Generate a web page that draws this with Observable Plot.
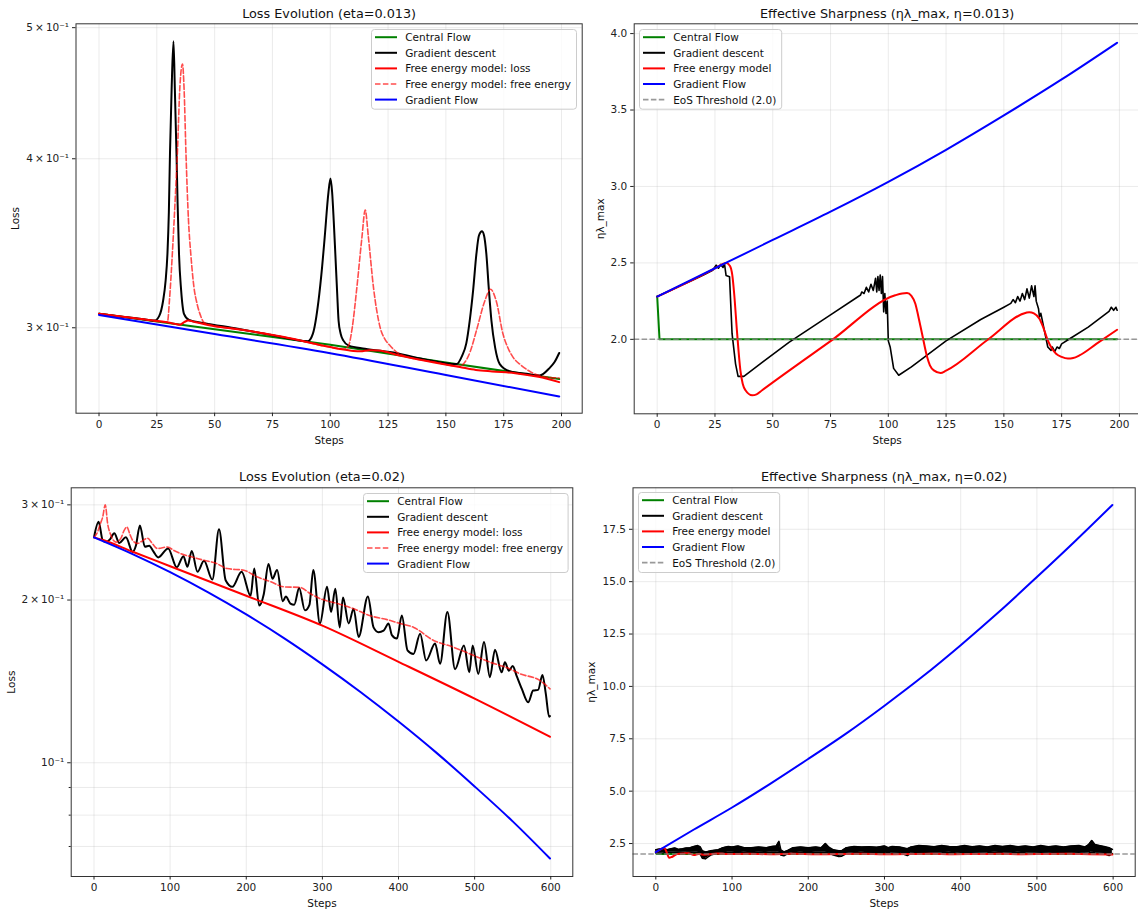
<!DOCTYPE html>
<html><head><meta charset="utf-8">
<script src="https://cdn.jsdelivr.net/npm/d3@7"></script>
<script src="https://cdn.jsdelivr.net/npm/@observablehq/plot@0.6"></script>
<style>
html,body{margin:0;padding:0;background:#fff;overflow:hidden;}
#root{position:relative;width:1138px;height:913px;overflow:hidden;background:#fff;font-family:"DejaVu Sans",sans-serif;}
</style></head><body><div id="root"></div><script>
// ---------------- DATA ----------------
// Panel 1 : loss, eta = 0.013  [step, loss]
const loss013Central = [[0,0.3073],[50,0.2993],[100,0.2914],[150,0.2828],[199,0.2749]];
const loss013GD = [[0,0.3073],[10,0.3057],[20,0.3043],[24,0.3037],[26,0.306],[27.7,0.314],[28.8,0.325],[29.6,0.3405],[30.2,0.365],[30.7,0.4043],[31.4,0.45],[32.2,0.4885],[32.8,0.45],[33.5,0.404],[34,0.37],[34.6,0.34],[35.5,0.32],[36.8,0.307],[38.9,0.304],[45,0.3025],[60,0.2995],[75,0.2962],[90.3,0.2932],[92.5,0.297],[94.9,0.3139],[96.5,0.333],[97.6,0.35],[99.2,0.3775],[100.1,0.3868],[100.8,0.378],[101.5,0.36],[102.2,0.34],[103,0.318],[103.6,0.3036],[104.5,0.297],[105.7,0.2935],[108,0.291],[115,0.2895],[128.7,0.2873],[140,0.2845],[154.6,0.282],[157,0.286],[158.8,0.292],[160.3,0.3036],[161.8,0.32],[163.2,0.3402],[164.3,0.351],[165.6,0.3535],[166.5,0.351],[167.5,0.3402],[168.6,0.32],[169.7,0.3036],[171.3,0.29],[173.3,0.282],[177.6,0.2786],[186,0.2772],[190.5,0.2766],[194.8,0.2801],[197,0.283],[199,0.2874]];
const loss013FreeLoss = [[0,0.3073],[20,0.3042],[30,0.3027],[33,0.302],[35,0.3016],[37,0.303],[38.5,0.3037],[42,0.3028],[50,0.3008],[60,0.2993],[80,0.2953],[100,0.2903],[105,0.2892],[110,0.2884],[113,0.2882],[117,0.2888],[121,0.2886],[130,0.2862],[145,0.2828],[156,0.2806],[163,0.2792],[170,0.2785],[180,0.2777],[190,0.276],[199,0.2735]];
const loss013FreeEnergy = [[0,0.3073],[20,0.3042],[28,0.303],[29.6,0.303],[30.5,0.315],[31.7,0.34],[33,0.375],[33.9,0.404],[35,0.453],[36.1,0.47],[36.8,0.45],[37.6,0.404],[38.7,0.36],[39.7,0.34],[41,0.322],[42.5,0.312],[44,0.306],[45.4,0.3027],[50,0.301],[60,0.2993],[80,0.2953],[100,0.2903],[106,0.2893],[107.9,0.291],[109.5,0.3],[111.5,0.3212],[113.7,0.3499],[115.1,0.3666],[116.5,0.3499],[118.7,0.3212],[121.6,0.3],[123.5,0.2945],[125.9,0.291],[130,0.2869],[145,0.283],[156,0.281],[157.5,0.282],[160.5,0.288],[163.2,0.2985],[166.8,0.3139],[169.3,0.3203],[171.8,0.3139],[174.7,0.2968],[177,0.2895],[179,0.2854],[182.5,0.2815],[186.2,0.2786],[191.9,0.2761],[199,0.2754]];
const loss013GradFlow = [[0,0.3066],[50,0.2968],[100,0.2873],[150,0.2768],[199,0.2669]];

// Panel 2 : effective sharpness, eta = 0.013
const sharp013Central = [[0,2.28],[1,2.0],[199,2.0]];
const sharp013GD = [[0,2.28],[5,2.315],[10,2.35],[15,2.385],[20,2.42],[24,2.452],[25.5,2.485],[26.5,2.465],[27.5,2.49],[28.5,2.47],[29.1,2.495],[29.8,2.418],[31.3,2.41],[32.4,2.037],[33.9,1.84],[35,1.758],[37.5,1.758],[45,1.845],[57,1.98],[75,2.16],[88,2.29],[88.5,2.31],[89.5,2.3],[90.5,2.34],[91.5,2.31],[92.5,2.36],[93.5,2.32],[94.5,2.4],[95,2.31],[95.5,2.41],[96,2.32],[96.5,2.42],[97,2.3],[97.5,2.41],[98,2.18],[98.5,2.3],[99,2.17],[99.5,2.25],[100,1.99],[100.8,1.95],[102.3,1.81],[104.5,1.765],[110,1.82],[125,1.99],[140,2.13],[150,2.21],[153,2.235],[154,2.26],[155,2.24],[156,2.28],[157,2.25],[158,2.3],[159,2.26],[160,2.33],[161,2.27],[162,2.35],[163,2.28],[163.5,2.35],[164,2.25],[165,2.2],[165.4,2.146],[166,2.17],[167.5,2.06],[169,1.95],[170.4,1.928],[171,1.95],[172,1.92],[173,1.95],[174,1.94],[175,1.97],[178.5,2.004],[186.5,2.08],[195.5,2.183],[196.5,2.21],[197.5,2.19],[198.5,2.21],[199,2.19]];
const sharp013Free = [[0,2.28],[25,2.465],[28,2.49],[30,2.5],[31.5,2.48],[32.5,2.42],[33.3,2.3],[34.6,2.037],[36,1.797],[37,1.71],[38.2,1.667],[41.1,1.634],[43,1.64],[45.4,1.667],[75,1.988],[103,2.288],[106,2.3],[108.1,2.303],[110,2.285],[111.7,2.233],[113,2.15],[114.6,2.037],[116.8,1.884],[118,1.83],[119.7,1.797],[122.6,1.78],[125,1.795],[143,1.997],[159.6,2.174],[161,2.178],[163,2.17],[165.4,2.135],[167,2.08],[169,1.993],[170.8,1.94],[172.6,1.906],[175,1.885],[177.7,1.874],[180,1.878],[182.7,1.895],[190,1.97],[199,2.063]];
const sharp013GradFlow = [[0,2.28],[25,2.465],[50,2.65],[75,2.835],[100,3.03],[125,3.24],[150,3.465],[175,3.7],[199,3.94]];

// Panel 3 : loss, eta = 0.02
const loss02GD = [[0,0.2612],[6.1,0.2791],[11.4,0.258],[15.7,0.256],[21,0.259],[26.6,0.2657],[33.2,0.255],[41.9,0.2613],[50.7,0.2455],[55,0.252],[60.3,0.2747],[66.8,0.251],[72.5,0.252],[78,0.246],[84.3,0.2398],[97.4,0.2491],[108.7,0.2299],[117.5,0.2411],[122.7,0.2304],[128.4,0.2465],[135.9,0.2256],[144.5,0.2364],[155.5,0.2182],[164.2,0.2703],[172.9,0.2176],[181.7,0.2116],[193.9,0.2256],[205.7,0.2037],[210.5,0.2288],[217,0.1953],[223,0.205],[229.2,0.2331],[234.5,0.219],[240.5,0.2272],[248,0.199],[252,0.203],[258,0.197],[263,0.196],[269.5,0.2105],[277,0.1914],[283,0.196],[288,0.2272],[296.8,0.1809],[306.1,0.2116],[311.4,0.19],[317,0.2099],[322.7,0.178],[327.1,0.2022],[334.5,0.181],[341,0.1927],[347.6,0.1709],[359.8,0.2031],[367.2,0.178],[373.8,0.1744],[380.4,0.1755],[386.9,0.181],[391.3,0.1722],[397.9,0.1697],[404.4,0.1873],[411.8,0.1614],[419.7,0.159],[428.4,0.1733],[436.3,0.1546],[448.1,0.1662],[454.6,0.1524],[464.2,0.1901],[474.3,0.149],[486,0.1648],[493,0.147],[497.4,0.1648],[504.8,0.146],[512.3,0.1673],[520.1,0.144],[526.7,0.1618],[535.4,0.147],[539.8,0.1535],[545,0.148],[550,0.151],[555,0.145],[562,0.137],[570.3,0.1294],[576.9,0.136],[583.4,0.1364],[589.1,0.1454],[593.5,0.1341],[597.8,0.1217],[599,0.122]];
const loss02FreeLoss = [[0,0.2612],[13,0.258],[50,0.2459],[100,0.231],[200,0.2037],[300,0.1793],[400,0.1537],[500,0.1314],[599,0.1117]];
const loss02FreeEnergy = [[0,0.2612],[5,0.268],[8,0.276],[11.4,0.2848],[14.8,0.3],[17.9,0.277],[22.3,0.2633],[28.8,0.256],[35.4,0.2603],[39,0.268],[43.2,0.273],[47,0.265],[50.7,0.258],[57.2,0.2545],[63,0.257],[70.3,0.2603],[77,0.254],[83.4,0.2491],[96.5,0.2507],[105,0.247],[114,0.2437],[130,0.24],[144.5,0.2369],[160,0.234],[175,0.2287],[197,0.227],[214,0.2208],[232,0.2163],[249,0.2116],[271,0.211],[284,0.2056],[297,0.2012],[320,0.197],[340,0.193],[363,0.187],[385,0.184],[402,0.181],[420,0.178],[446,0.1684],[470,0.164],[494,0.159],[520,0.1535],[542,0.15],[560,0.146],[585.6,0.142],[599,0.137]];
const loss02GradFlow = [[0,0.2612],[50,0.2435],[100,0.2252],[150,0.2066],[200,0.1881],[250,0.1699],[300,0.1521],[350,0.1352],[400,0.1192],[450,0.1043],[500,0.0904],[550,0.0779],[599,0.0665]];

// Panel 4 : effective sharpness, eta = 0.02
const sharp02Central = [[0,2.1],[1,2.0],[599,2.0]];
// gradient descent oscillates fast: [step, lower envelope, upper envelope]
const sharp02GDBand = [[0,2.06,2.2],[5,2.05,2.24],[10,2.06,2.25],[15,2.08,2.2],[20,2.08,2.25],[25,2.1,2.29],[30,2.09,2.22],[35,2.08,2.25],[40,2.1,2.29],[45,2.09,2.3],[50,2.08,2.36],[55,2.1,2.4],[58,2.02,2.35],[61,1.8,2.15],[65,1.77,2.1],[68,1.85,2.12],[72,1.95,2.15],[77,2.0,2.18],[82,2.02,2.2],[88,2.05,2.3],[95,2.08,2.36],[100,2.08,2.33],[108,2.06,2.38],[116,2.08,2.3],[125,2.06,2.3],[135,2.08,2.33],[145,2.07,2.3],[152,2.1,2.36],[158,2.08,2.38],[161.5,2.1,2.6],[164,1.95,2.2],[168,1.92,2.1],[172,2.0,2.15],[180,2.06,2.3],[190,2.08,2.33],[200,2.06,2.3],[210,2.08,2.33],[217,2.08,2.3],[222.5,2.1,2.5],[227,2.05,2.32],[233,1.95,2.2],[240,1.88,2.15],[244,1.9,2.16],[250,2.02,2.3],[260,2.06,2.36],[270,2.08,2.33],[280,2.06,2.35],[290,2.06,2.32],[300,2.06,2.38],[305,2.0,2.3],[310,2.05,2.36],[320,2.06,2.33],[330,1.93,2.25],[335,2.05,2.33],[345,2.07,2.4],[355,2.06,2.38],[365,2.05,2.35],[375,2.06,2.4],[385,2.08,2.36],[395,2.05,2.35],[405,2.07,2.4],[415,2.06,2.35],[425,2.05,2.38],[435,2.06,2.33],[445,2.08,2.4],[455,2.06,2.36],[465,2.05,2.4],[475,2.08,2.35],[485,2.06,2.38],[495,2.05,2.33],[505,2.06,2.4],[515,2.05,2.35],[525,2.07,2.38],[535,2.06,2.33],[545,2.05,2.38],[555,2.06,2.4],[563,2.04,2.33],[568,2.05,2.45],[572,2.1,2.64],[576,2.06,2.45],[582,2.04,2.4],[588,2.02,2.36],[594.7,1.93,2.3],[599,2.02,2.22]];
const sharp02Free = [[0,2.09],[5,2.2],[11,2.29],[14,2.1],[17.5,1.82],[21,1.86],[28,2.0],[37,2.03],[43,2.04],[50,1.95],[56,2.0],[62,1.97],[70,1.99],[80,2.02],[95,2.0],[120,2.01],[150,1.99],[180,2.01],[210,1.99],[240,2.0],[270,2.01],[300,1.99],[330,2.0],[360,2.01],[390,1.99],[420,2.0],[450,2.01],[480,1.99],[510,2.0],[540,2.01],[570,1.99],[599,1.98]];
const sharp02GradFlow = [[0,2.086],[50,3.17],[100,4.22],[150,5.35],[200,6.54],[250,7.76],[300,9.08],[350,10.47],[400,11.97],[450,13.55],[500,15.22],[550,16.93],[599,18.66]];

const eosThreshold = 2.0;

// ticks & labels
const xTicks200 = [0,25,50,75,100,125,150,175,200];
const xTicks600 = [0,100,200,300,400,500,600];
const yTicksLoss013 = [0.3,0.4,0.5];
const yLabelsLoss013 = ["3\u2009×\u200910⁻¹","4\u2009×\u200910⁻¹","5\u2009×\u200910⁻¹"];
const yTicksLoss02 = [0.1,0.2,0.3];
const yLabelsLoss02 = ["10⁻¹","2\u2009×\u200910⁻¹","3\u2009×\u200910⁻¹"];
const yMinorLoss02 = [0.07,0.08,0.09];
const yTicksSharp013 = [2.0,2.5,3.0,3.5,4.0];
const yTicksSharp02 = [2.5,5.0,7.5,10.0,12.5,15.0,17.5];

const C = {green:"#008000", black:"#000000", red:"#ff0000", blue:"#0000ff", gray:"#808080"};

// ---------------- DRAWING ----------------
const root = document.getElementById("root");
const fmtMap = (ticks, labels) => { const m = new Map(ticks.map((t,i)=>[t,labels[i]])); return d => m.get(d) ?? ""; };

function panel(cfg) {
  const gridStyle = {stroke:"#b0b0b0", strokeOpacity:0.32, strokeWidth:0.8};
  const marks = [
    Plot.gridX(cfg.xTicks, gridStyle),
    Plot.gridY(cfg.yGrid, gridStyle)
  ];
  for (const s of cfg.series) {
    if (s.band) {
      marks.push(Plot.areaY(s.data, {x:d=>d[0], y1:d=>d[1], y2:d=>d[2], fill:s.stroke, curve:"linear"}));
      marks.push(Plot.line(s.data, {x:d=>d[0], y:d=>d[1], stroke:s.stroke, strokeWidth:1.6}));
      marks.push(Plot.line(s.data, {x:d=>d[0], y:d=>d[2], stroke:s.stroke, strokeWidth:1.6}));
    } else {
      marks.push(Plot.line(s.data, {x:d=>d[0], y:d=>d[1], stroke:s.stroke, strokeWidth:s.width ?? 2,
        strokeOpacity:s.opacity ?? 1, strokeDasharray:s.dash, curve:s.curve ?? "linear", strokeLinejoin:"round"}));
    }
  }
  if (cfg.threshold != null)
    marks.push(Plot.ruleY([cfg.threshold], {stroke:C.gray, strokeOpacity:0.8, strokeWidth:1.5, strokeDasharray:"5.5,2.4"}));
  marks.push(Plot.frame({stroke:"#333", strokeWidth:1}));
  marks.push(Plot.axisX({ticks:cfg.xTicks, tickSize:3.5, tickPadding:3.5, tickFormat:d3.format("d"), label:null}));
  marks.push(Plot.axisY({ticks:cfg.yTicks, tickSize:3.5, tickPadding:3.5, tickFormat:cfg.yFmt, label:null}));
  if (cfg.yMinor) marks.push(Plot.axisY({ticks:cfg.yMinor, tickSize:2, tickFormat:()=>"", label:null}));
  marks.push(Plot.text([cfg.title], {frameAnchor:"top", dy:cfg.titleDy, fontSize:12.8, textAnchor:"middle", lineAnchor:"middle", fill:"#111"}));
  marks.push(Plot.text(["Steps"], {frameAnchor:"bottom", dy:27, fontSize:10.5, textAnchor:"middle", lineAnchor:"middle", fill:"#111"}));
  marks.push(Plot.text([cfg.ylabel], {frameAnchor:"left", dx:cfg.ylabelDx, rotate:-90, fontSize:10.5, textAnchor:"middle", lineAnchor:"middle", fill:"#111"}));
  const svg = Plot.plot({
    width:cfg.w, height:cfg.h,
    marginLeft:cfg.ml, marginRight:cfg.mr, marginTop:cfg.mt, marginBottom:cfg.mb,
    x:{type:"linear", domain:cfg.xDomain},
    y:{type:cfg.yType, domain:cfg.yDomain},
    style:{background:"transparent", fontFamily:"DejaVu Sans", fontSize:"10.5px", color:"#222", overflow:"visible"},
    marks
  });
  svg.style.position = "absolute";
  svg.style.left = cfg.left + "px";
  svg.style.top = cfg.top + "px";
  root.appendChild(svg);
}

function legend(cfg) {
  const ns = "http://www.w3.org/2000/svg";
  const svg = document.createElementNS(ns, "svg");
  svg.setAttribute("width", cfg.w); svg.setAttribute("height", cfg.h);
  svg.style.position = "absolute"; svg.style.left = cfg.left + "px"; svg.style.top = cfg.top + "px";
  svg.style.overflow = "visible";
  const rect = document.createElementNS(ns, "rect");
  Object.entries({x:0.5, y:0.5, width:cfg.w-1, height:cfg.h-1, rx:3, fill:"#fff", "fill-opacity":0.8, stroke:"#cccccc", "stroke-width":1}).forEach(([k,v])=>rect.setAttribute(k,v));
  svg.appendChild(rect);
  cfg.items.forEach((it, i) => {
    const y = 8.2 + i * 15.6;
    const ln = document.createElementNS(ns, "line");
    Object.entries({x1:4, x2:26, y1:y, y2:y, stroke:it.stroke, "stroke-width":it.width ?? 2, "stroke-opacity":it.opacity ?? 1}).forEach(([k,v])=>ln.setAttribute(k,v));
    if (it.dash) ln.setAttribute("stroke-dasharray", it.dash);
    svg.appendChild(ln);
    const tx = document.createElementNS(ns, "text");
    tx.setAttribute("x", 34.2); tx.setAttribute("y", y); tx.setAttribute("dominant-baseline", "central");
    tx.setAttribute("font-family", "DejaVu Sans"); tx.setAttribute("font-size", "10.5px"); tx.setAttribute("fill", "#111");
    tx.textContent = it.label;
    svg.appendChild(tx);
  });
  root.appendChild(svg);
}

const lossLegend = [
  {label:"Central Flow", stroke:C.green},
  {label:"Gradient descent", stroke:C.black},
  {label:"Free energy model: loss", stroke:C.red},
  {label:"Free energy model: free energy", stroke:C.red, opacity:0.7, dash:"5.5,2.4", width:1.6},
  {label:"Gradient Flow", stroke:C.blue}
];
const sharpLegend = [
  {label:"Central Flow", stroke:C.green},
  {label:"Gradient descent", stroke:C.black},
  {label:"Free energy model", stroke:C.red},
  {label:"Gradient Flow", stroke:C.blue},
  {label:"EoS Threshold (2.0)", stroke:C.gray, opacity:0.8, dash:"5.5,2.4", width:1.6}
];

// Panel 1
panel({left:0, top:0, w:600, h:450, ml:75.5, mr:18.3, mt:23.3, mb:37.3,
  xDomain:[-9.95,208.95], yType:"log", yDomain:[0.2594,0.5033],
  xTicks:xTicks200, yTicks:yTicksLoss013, yGrid:yTicksLoss013, yFmt:fmtMap(yTicksLoss013, yLabelsLoss013),
  title:"Loss Evolution (eta=0.013)", titleDy:-10, ylabel:"Loss", ylabelDx:-60,
  series:[
    {data:loss013Central, stroke:C.green},
    {data:loss013GD, stroke:C.black, curve:"monotone-x"},
    {data:loss013FreeLoss, stroke:C.red, curve:"monotone-x"},
    {data:loss013FreeEnergy, stroke:C.red, opacity:0.7, dash:"5.5,2.4", width:1.6, curve:"monotone-x"},
    {data:loss013GradFlow, stroke:C.blue, curve:"monotone-x"}
  ]});
// Panel 2
panel({left:580, top:0, w:562, h:450, ml:53.7, mr:2.4, mt:23.3, mb:36.7,
  xDomain:[-9.95,208.95], yType:"linear", yDomain:[1.513,4.064],
  xTicks:xTicks200, yTicks:yTicksSharp013, yGrid:yTicksSharp013, yFmt:d3.format(".1f"),
  title:"Effective Sharpness (ηλ_max, η=0.013)", titleDy:-10, ylabel:"ηλ_max", ylabelDx:-34,
  threshold:eosThreshold,
  series:[
    {data:sharp013Central, stroke:C.green},
    {data:sharp013GD, stroke:C.black, width:1.6},
    {data:sharp013Free, stroke:C.red, curve:"monotone-x"},
    {data:sharp013GradFlow, stroke:C.blue, curve:"monotone-x"}
  ]});
// Panel 3
panel({left:0, top:455, w:590, h:458, ml:70.7, mr:17.7, mt:32.3, mb:37,
  xDomain:[-29.95,628.95], yType:"log", yDomain:[0.0616,0.3226],
  xTicks:xTicks600, yTicks:yTicksLoss02, yGrid:[...yMinorLoss02, ...yTicksLoss02], yMinor:yMinorLoss02,
  yFmt:fmtMap(yTicksLoss02, yLabelsLoss02),
  title:"Loss Evolution (eta=0.02)", titleDy:-11.3, ylabel:"Loss", ylabelDx:-59.7,
  series:[
    {data:loss02GD, stroke:C.black, curve:"monotone-x"},
    {data:loss02FreeLoss, stroke:C.red, curve:"monotone-x"},
    {data:loss02FreeEnergy, stroke:C.red, opacity:0.7, dash:"5.5,2.4", width:1.6, curve:"monotone-x"},
    {data:loss02GradFlow, stroke:C.blue, curve:"monotone-x"}
  ]});
// Panel 4
panel({left:580, top:455, w:558, h:458, ml:52.5, mr:3.3, mt:32.3, mb:37,
  xDomain:[-29.95,628.95], yType:"linear", yDomain:[0.927,19.48],
  xTicks:xTicks600, yTicks:yTicksSharp02, yGrid:yTicksSharp02, yFmt:d3.format(".1f"),
  title:"Effective Sharpness (ηλ_max, η=0.02)", titleDy:-11.3, ylabel:"ηλ_max", ylabelDx:-41.5,
  threshold:eosThreshold,
  series:[
    {data:sharp02Central, stroke:C.green},
    {data:sharp02GDBand, stroke:C.black, band:true},
    {data:sharp02Free, stroke:C.red, curve:"monotone-x"},
    {data:sharp02GradFlow, stroke:C.blue, curve:"monotone-x"}
  ]});

legend({left:370.7, top:29.3, w:206, h:80.7, items:lossLegend});
legend({left:638.8, top:29.3, w:143.2, h:80.7, items:sharpLegend});
legend({left:362.7, top:492.7, w:205.6, h:80, items:lossLegend});
legend({left:637.8, top:492.3, w:142.2, h:81, items:sharpLegend});
</script></body></html>
